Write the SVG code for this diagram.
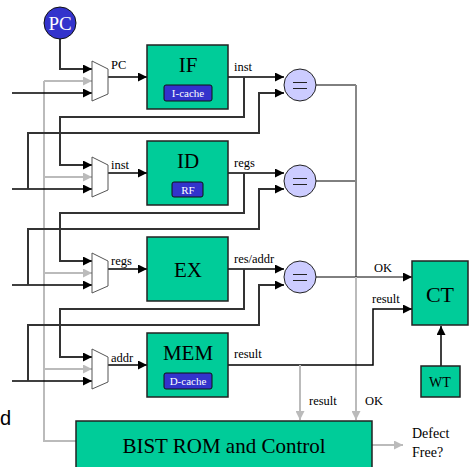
<svg xmlns="http://www.w3.org/2000/svg" width="469" height="467" viewBox="0 0 469 467">
<style>
.box{fill:#00cc99;stroke:#222;stroke-width:1.5}
.btn{fill:#3333cc;stroke:#111;stroke-width:1}
.bt{font-size:11px;fill:#fff;text-anchor:middle}
.st{font-size:21px;text-anchor:middle;fill:#000}
.lb{font-size:12.5px;fill:#000}
.mux{fill:#fff;stroke:#555;stroke-width:1}
.eq{fill:#ccccff;stroke:#222;stroke-width:1}
.w{fill:none;stroke:#000;stroke-width:1.5}
.fb{fill:none;stroke:#333;stroke-width:2}
.th{fill:none;stroke:#000;stroke-width:1}
.g{fill:none;stroke:#bbb;stroke-width:2}
.dg{fill:none;stroke:#888;stroke-width:2}
</style>
<defs>
<marker id="a" markerUnits="userSpaceOnUse" markerWidth="9" markerHeight="9" refX="9" refY="4.5" orient="auto"><path d="M0,0 L9,4.5 L0,9 z" fill="#000"/></marker>
<marker id="ag" markerUnits="userSpaceOnUse" markerWidth="9" markerHeight="9" refX="9" refY="4.5" orient="auto"><path d="M0,0 L9,4.5 L0,9 z" fill="#bbb"/></marker>
</defs>

<g id="connectors">
  <path class="g" d="M76,441 H44 V81"/>
  <path class="g" d="M44,81 H92" marker-end="url(#ag)"/>
  <path class="g" d="M44,177 H92" marker-end="url(#ag)"/>
  <path class="g" d="M44,273 H92" marker-end="url(#ag)"/>
  <path class="g" d="M44,369 H92" marker-end="url(#ag)"/>
  <path class="fb" d="M60,39 V69 H92" marker-end="url(#a)"/>
  <path class="w" d="M12,93 H92" marker-end="url(#a)"/>
  <path class="w" d="M12,189 H92" marker-end="url(#a)"/>
  <path class="w" d="M12,285 H92" marker-end="url(#a)"/>
  <path class="w" d="M12,381 H92" marker-end="url(#a)"/>
  <path class="w" d="M108,77 H147" marker-end="url(#a)"/>
  <path class="w" d="M108,173 H147" marker-end="url(#a)"/>
  <path class="w" d="M108,269 H147" marker-end="url(#a)"/>
  <path class="w" d="M108,365 H147" marker-end="url(#a)"/>
  <path class="w" d="M228,77 H284" marker-end="url(#a)"/>
  <path class="w" d="M228,173 H284" marker-end="url(#a)"/>
  <path class="w" d="M228,269 H284" marker-end="url(#a)"/>
  <path class="fb" d="M244,77 V117 H60 V165 H92" marker-end="url(#a)"/>
  <path class="fb" d="M244,173 V213 H60 V261 H92" marker-end="url(#a)"/>
  <path class="fb" d="M244,269 V309 H60 V357 H92" marker-end="url(#a)"/>
  <path class="fb" d="M28,189 V133 H259 V93 H284" marker-end="url(#a)"/>
  <path class="fb" d="M28,285 V229 H259 V189 H284" marker-end="url(#a)"/>
  <path class="fb" d="M28,381 V325 H259 V285 H284" marker-end="url(#a)"/>
  <path class="th" d="M316,85 H356"/>
  <path class="th" d="M316,181 H356"/>
  <path class="dg" d="M356,85 V277"/>
  <path class="th" d="M316,277 H412" marker-end="url(#a)"/>
  <path class="g" d="M356,277 V420" marker-end="url(#ag)"/>
  <path class="w" d="M228,365 H373 V309 H412" marker-end="url(#a)"/>
  <path class="g" d="M300,365 V420" marker-end="url(#ag)"/>
  <path class="w" d="M441,366 V326" marker-end="url(#a)"/>
  <path class="g" d="M372,445 H403" marker-end="url(#ag)"/>
</g>

<g font-family="Liberation Serif, Times New Roman, serif">
<g id="PC">
  <circle cx="60" cy="23" r="16" fill="#3333cc" stroke="#111" stroke-width="1"/>
  <text x="60" y="30" font-size="19" text-anchor="middle" fill="#fff">PC</text>
</g>

<g id="mux1"><path class="mux" d="M92,61 L108,69 L108,94 L92,101 z"/><text x="111" y="69" class="lb">PC</text></g>
<g id="mux2"><path class="mux" d="M92,157 L108,165 L108,190 L92,197 z"/><text x="111" y="169" class="lb">inst</text></g>
<g id="mux3"><path class="mux" d="M92,253 L108,261 L108,286 L92,293 z"/><text x="111" y="265" class="lb">regs</text></g>
<g id="mux4"><path class="mux" d="M92,349 L108,357 L108,382 L92,389 z"/><text x="111" y="362" class="lb">addr</text></g>

<g id="IF">
  <rect class="box" x="147" y="45" width="81" height="64"/>
  <text x="188" y="72" class="st">IF</text>
  <rect class="btn" x="164" y="85" width="48" height="16" rx="2"/>
  <text x="188" y="97" class="bt">I-cache</text>
  <text x="234" y="71" class="lb">inst</text>
</g>
<g id="ID">
  <rect class="box" x="147" y="141" width="81" height="64"/>
  <text x="188" y="168" class="st">ID</text>
  <rect class="btn" x="172" y="182" width="31" height="15" rx="2"/>
  <text x="188" y="194" class="bt">RF</text>
  <text x="234" y="167" class="lb">regs</text>
</g>
<g id="EX">
  <rect class="box" x="147" y="237" width="81" height="64"/>
  <text x="188" y="277" class="st">EX</text>
  <text x="234" y="263" class="lb">res/addr</text>
</g>
<g id="MEM">
  <rect class="box" x="147" y="333" width="81" height="64"/>
  <text x="188" y="360" class="st">MEM</text>
  <rect class="btn" x="164" y="373" width="48" height="16" rx="2"/>
  <text x="188" y="385" class="bt">D-cache</text>
  <text x="234" y="358" class="lb">result</text>
</g>

<g id="eq1"><circle class="eq" cx="300" cy="85" r="16"/><path d="M293,82.5 H307 M293,88.5 H307" stroke="#222" stroke-width="1.2"/></g>
<g id="eq2"><circle class="eq" cx="300" cy="181" r="16"/><path d="M293,178.5 H307 M293,184.5 H307" stroke="#222" stroke-width="1.2"/></g>
<g id="eq3"><circle class="eq" cx="300" cy="277" r="16"/><path d="M293,274.5 H307 M293,280.5 H307" stroke="#222" stroke-width="1.2"/></g>

<g id="CT">
  <rect class="box" x="412" y="261" width="56" height="64"/>
  <text x="440" y="302" class="st" style="font-size:22px">CT</text>
  <text x="374" y="272" class="lb">OK</text>
  <text x="372" y="303" class="lb">result</text>
</g>
<g id="WT">
  <rect class="box" x="421" y="366" width="39" height="31"/>
  <text x="440" y="387" font-size="14" text-anchor="middle">WT</text>
</g>

<g id="BIST">
  <rect class="box" x="76" y="421" width="296" height="50"/>
  <text x="224" y="453" class="st">BIST ROM and Control</text>
  <text x="309" y="405" class="lb">result</text>
  <text x="365" y="405" class="lb">OK</text>
</g>
<g id="defect">
  <text x="412" y="438" font-size="14">Defect</text>
  <text x="412" y="457" font-size="14">Free?</text>
</g>
</g>
<text x="0" y="425" font-family="Liberation Sans, Arial, sans-serif" font-size="20">d</text>
</svg>
